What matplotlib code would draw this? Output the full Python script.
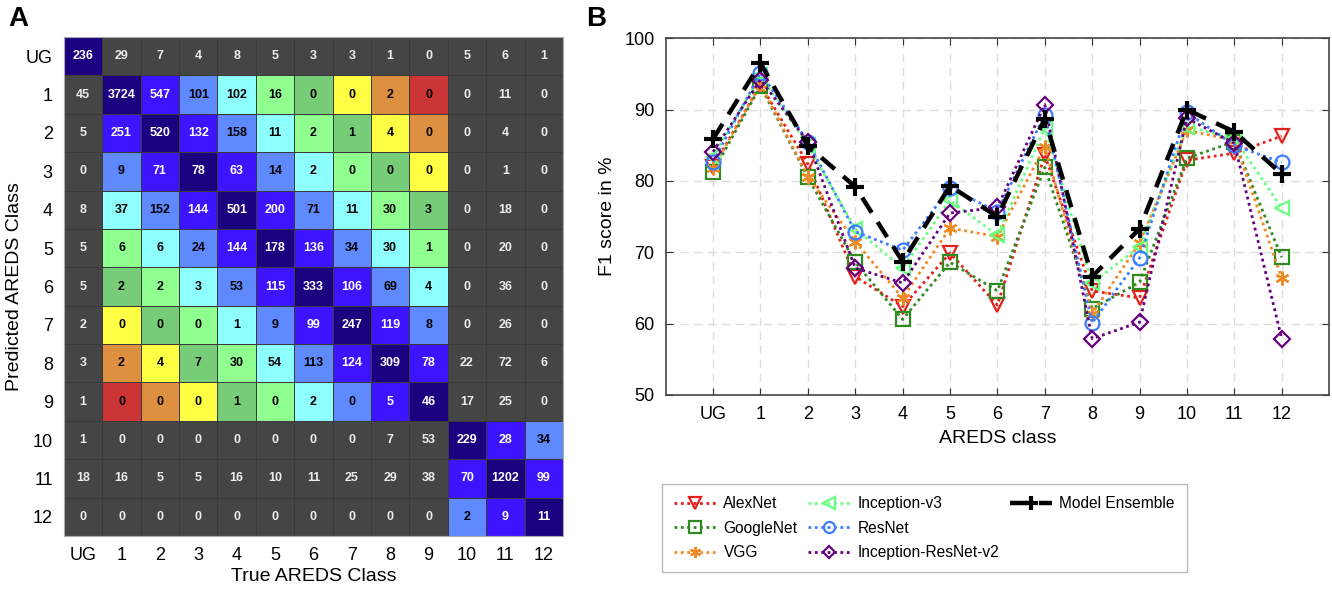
import numpy as np
import matplotlib
matplotlib.use("Agg")
import matplotlib.pyplot as plt
from matplotlib.colors import ListedColormap
from matplotlib.lines import Line2D

# ---- data ----
class_labels = ["UG", "1", "2", "3", "4", "5", "6", "7", "8", "9", "10", "11", "12"]

# rows = predicted class, columns = true class
confusion = np.array([
    [236, 29, 7, 4, 8, 5, 3, 3, 1, 0, 5, 6, 1],
    [45, 3724, 547, 101, 102, 16, 0, 0, 2, 0, 0, 11, 0],
    [5, 251, 520, 132, 158, 11, 2, 1, 4, 0, 0, 4, 0],
    [0, 9, 71, 78, 63, 14, 2, 0, 0, 0, 0, 1, 0],
    [8, 37, 152, 144, 501, 200, 71, 11, 30, 3, 0, 18, 0],
    [5, 6, 6, 24, 144, 178, 136, 34, 30, 1, 0, 20, 0],
    [5, 2, 2, 3, 53, 115, 333, 106, 69, 4, 0, 36, 0],
    [2, 0, 0, 0, 1, 9, 99, 247, 119, 8, 0, 26, 0],
    [3, 2, 4, 7, 30, 54, 113, 124, 309, 78, 22, 72, 6],
    [1, 0, 0, 0, 1, 0, 2, 0, 5, 46, 17, 25, 0],
    [1, 0, 0, 0, 0, 0, 0, 0, 7, 53, 229, 28, 34],
    [18, 16, 5, 5, 16, 10, 11, 25, 29, 38, 70, 1202, 99],
    [0, 0, 0, 0, 0, 0, 0, 0, 0, 0, 2, 9, 11],
])

f1_alexnet = [82.0, 93.5, 82.4, 66.6, 62.4, 69.9, 62.6, 83.6, 64.6, 63.6, 82.9, 83.9, 86.3]
f1_googlenet = [81.3, 93.3, 80.5, 68.6, 60.6, 68.6, 64.6, 81.9, 62.1, 65.8, 83.2, 85.5, 69.3]
f1_vgg = [81.8, 93.6, 80.6, 71.5, 63.6, 73.4, 72.2, 84.8, 61.4, 71.3, 87.1, 85.7, 66.4]
f1_incv3 = [83.4, 94.8, 85.0, 73.3, 67.8, 77.3, 72.4, 87.4, 65.7, 70.8, 87.6, 86.0, 76.2]
f1_resnet = [82.7, 95.2, 85.5, 72.9, 70.3, 79.0, 75.7, 89.3, 60.1, 69.2, 89.6, 85.0, 82.6]
f1_incres = [84.1, 94.2, 85.5, 67.8, 65.7, 75.5, 76.3, 90.7, 57.9, 60.2, 88.8, 85.3, 57.9]
f1_ensemble = [85.9, 96.5, 84.9, 79.2, 68.7, 79.3, 75.0, 88.7, 66.6, 73.3, 90.0, 86.9, 81.0]

# ---- figure ----
plt.rcParams['font.family'] = ['Liberation Sans', 'DejaVu Sans']
fig = plt.figure(figsize=(13.32, 5.93), dpi=100)

# Panel A: confusion matrix, coloured by distance from the diagonal inside each block
cell_colors = ["#1b0080", "#3c14ff", "#5f8aff", "#8dffff", "#8fff8f",
               "#77cc77", "#ffff44", "#dd9040", "#cc3535", "#454545"]
n = len(class_labels)
idx = np.full((n, n), 9)
idx[0, 0] = 0
for i in range(1, 10):
    for j in range(1, 10):
        idx[i, j] = abs(i - j)
for i in range(10, 13):
    for j in range(10, 13):
        idx[i, j] = abs(i - j)

axA = fig.add_axes([0.048, 0.0961, 0.3746, 0.8415])
axA.pcolormesh(np.arange(n + 1) - 0.5, np.arange(n + 1) - 0.5, idx,
               cmap=ListedColormap(cell_colors), vmin=-0.5, vmax=9.5,
               edgecolor="#3a3a3a", linewidth=0.4)
for i in range(n):
    for j in range(n):
        k = idx[i, j]
        if k == 9:
            tc = "#ececec"
        elif k in (0, 1):
            tc = "white"
        else:
            tc = "black"
        axA.text(j, i, str(confusion[i, j]), ha="center", va="center",
                 fontsize=9, fontweight="bold", color=tc)
axA.set_xlim(-0.5, n - 0.5)
axA.set_ylim(n - 0.5, -0.5)
axA.set_xticks(range(n))
axA.set_yticks(range(n))
axA.set_xticklabels(class_labels, fontsize=13)
axA.set_yticklabels(class_labels, fontsize=13)
axA.tick_params(length=0, pad=8)
for s in axA.spines.values():
    s.set_color("#aaaaaa")
axA.set_xlabel("True AREDS Class", fontsize=14, labelpad=3)
axA.set_ylabel("Predicted AREDS Class", fontsize=14, labelpad=2)

# Panel B: F1 scores
axB = fig.add_axes([0.4998, 0.3339, 0.498, 0.6015])
x = np.arange(n)
series = [
    ("AlexNet", f1_alexnet, "#e3211c", "v"),
    ("GoogleNet", f1_googlenet, "#2f8a1f", "s"),
    ("VGG", f1_vgg, "#f08a24", (6, 2, 0)),
    ("Inception-v3", f1_incv3, "#66ff80", "<"),
    ("ResNet", f1_resnet, "#3d7dff", "o"),
    ("Inception-ResNet-v2", f1_incres, "#66007f", "D"),
]
handles = []
for name, vals, col, mk in series:
    h, = axB.plot(x, vals, linestyle=(0, (1, 1.3)), color=col, linewidth=2,
                  marker=mk, markersize=10 if mk != "D" else 8,
                  markerfacecolor="none", markeredgecolor=col,
                  markeredgewidth=1.6, label=name)
    handles.append(h)
h, = axB.plot(x, f1_ensemble, linestyle=(0, (4, 2.5)), color="black",
              linewidth=3.2, marker="+", markersize=13, markeredgewidth=3,
              label="Model Ensemble")
handles.append(h)

axB.set_xlim(-1, 13)
axB.set_ylim(50, 100)
axB.set_xticks(x)
axB.set_xticklabels(class_labels, fontsize=13)
axB.set_yticks(range(50, 101, 10))
axB.tick_params(axis="y", labelsize=13)
axB.tick_params(direction="in", top=True, right=True, length=5,
                color="#333333", pad=8)
axB.grid(True, linestyle=(0, (6, 4)), color="#dddddd", linewidth=1)
axB.set_axisbelow(True)
for s in axB.spines.values():
    s.set_color("#444444")
    s.set_linewidth(1.2)
axB.set_xlabel("AREDS class", fontsize=14, labelpad=5)
axB.set_ylabel("F1 score in %", fontsize=14, labelpad=6)

# pad third legend column so it holds only the ensemble entry
blank = Line2D([], [], linestyle="none")
leg_handles = handles + [blank, blank]
leg_labels = [hh.get_label() for hh in handles] + ["", ""]
leg = fig.legend(leg_handles, leg_labels, loc="upper left",
                 bbox_to_anchor=(0.497, 0.184),
                 ncol=3, fontsize=11.2, handlelength=2.7, handletextpad=0.45,
                 frameon=True, fancybox=False, edgecolor="#aaaaaa",
                 borderaxespad=0, labelspacing=0.6, columnspacing=0.7,
                 borderpad=0.8, markerscale=0.8)
leg.get_frame().set_linewidth(1.0)

fig.text(0.006, 0.99, "A", fontsize=20, fontweight="bold", va="top")
fig.text(0.44, 0.99, "B", fontsize=20, fontweight="bold", va="top")

fig.savefig("out.png", dpi=100)
